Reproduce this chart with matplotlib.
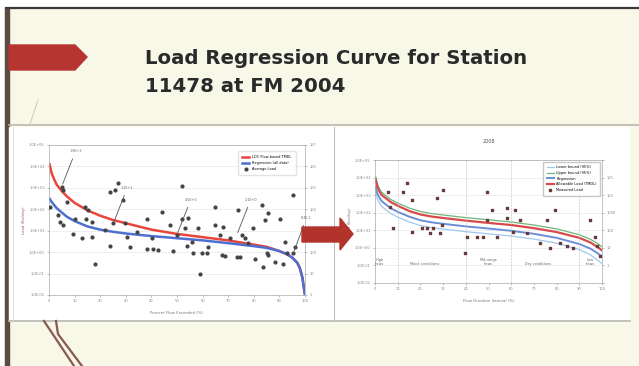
import numpy as np
import matplotlib
matplotlib.use("Agg")
import matplotlib.pyplot as plt
from matplotlib.patches import Polygon, Rectangle
from matplotlib.ticker import FixedLocator, NullLocator

# ---- slide text ----
title_lines = ["Load Regression Curve for Station", "11478 at FM 2004"]

# ---- left chart: flow-based load duration curve (log10 of load) ----
left_pct = [0.2, 1, 2, 3, 5, 7, 10, 15, 20, 25, 30, 40, 50, 60, 70, 80, 85, 90,
            93, 95, 97, 98, 99, 99.6, 100]
left_red = [4.1, 3.7, 3.4, 3.15, 2.85, 2.6, 2.3, 1.95, 1.7, 1.5, 1.35, 1.05, 0.85,
            0.7, 0.55, 0.35, 0.25, 0.05, -0.1, -0.25, -0.5, -0.75, -1.2, -1.7, -2.0]
left_blue = [2.5, 2.35, 2.2, 2.05, 1.85, 1.65, 1.45, 1.2, 1.05, 0.95, 0.87, 0.75,
             0.65, 0.55, 0.42, 0.28, 0.2, 0.05, -0.1, -0.25, -0.5, -0.75, -1.2, -1.7, -2.0]

left_obs_pct = [4.9, 5.6, 6.9, 0.4, 3.6, 4.3, 5.6, 9.5, 10.2, 12.8, 14.1, 15.4, 14.5,
                16.7, 16.7, 18.0, 21.9, 23.8, 25.8, 27.1, 29.0, 25.1, 23.8, 29.7, 30.3,
                31.6, 34.3, 38.2, 38.2, 40.1, 40.8, 42.7, 44.0, 47.3, 48.6, 51.8, 51.8,
                49.9, 53.1, 54.4, 53.8, 55.7, 56.4, 58.3, 59.0, 59.6, 61.6, 62.2, 64.8,
                64.8, 66.8, 68.1, 67.4, 68.8, 70.7, 73.9, 73.3, 74.6, 75.3, 76.6, 77.9,
                79.8, 80.5, 83.1, 83.7, 84.4, 85.0, 85.7, 85.7, 88.3, 90.2, 91.5, 92.2,
                92.8, 95.4, 95.4, 96.1]
left_obs_log = [3.05, 2.90, 2.35, 2.12, 1.73, 1.42, 1.26, 0.87, 1.54, 0.64, 2.12, 1.96,
                1.54, 1.42, 0.72, -0.56, 1.03, 2.82, 2.90, 3.21, 2.43, 1.34, 0.30, 1.37,
                0.72, 0.22, 0.95, 1.57, 0.14, 0.64, 0.14, 0.09, 1.88, 1.26, 0.06, 3.10,
                1.57, 0.79, 1.11, 1.60, 0.28, 0.48, -0.06, 1.11, -1.03, -0.06, -0.06,
                0.25, 2.12, 1.26, 0.79, 1.18, -0.14, -0.16, 0.64, 1.96, -0.22, -0.22,
                0.79, 0.64, 0.41, 1.11, -0.30, 2.20, -0.69, 1.50, -0.06, -0.14, 1.81,
                -0.45, 1.57, -0.53, 0.48, -0.06, 2.66, -0.06, 0.25]
left_notes = ["1.0E+3", "1.2E+1", "4.5E+0", "2.1E+0", "8.3E-1"]
left_note_pct = [4.9, 25.1, 49.9, 73.3, 95.4]
left_note_log = [3.05, 1.34, 0.79, 0.79, -0.06]

# ---- right chart: 2008 load duration curve ----
right_pct = [0.3, 1, 2, 3, 5, 7, 10, 15, 20, 25, 30, 40, 50, 60, 70, 80, 90, 95, 98, 100]
right_red = [3.9, 3.5, 3.2, 3.0, 2.8, 2.6, 2.4, 2.1, 1.9, 1.78, 1.7, 1.55, 1.42, 1.3,
             1.12, 0.9, 0.57, 0.3, 0.05, -0.15]
right_blue = [3.5, 3.1, 2.85, 2.65, 2.45, 2.25, 2.05, 1.78, 1.57, 1.45, 1.37, 1.22,
              1.1, 0.97, 0.8, 0.57, 0.22, -0.05, -0.3, -0.5]
right_upper = [4.05, 3.65, 3.35, 3.15, 2.95, 2.75, 2.55, 2.27, 2.07, 1.95, 1.87, 1.72,
               1.6, 1.47, 1.3, 1.08, 0.75, 0.48, 0.25, 0.05]
right_lower = [3.2, 2.8, 2.55, 2.35, 2.15, 1.95, 1.75, 1.48, 1.27, 1.15, 1.07, 0.92,
               0.8, 0.67, 0.5, 0.27, -0.1, -0.4, -0.7, -0.9]
right_obs_pct = [5.9, 12.5, 16.2, 14.0, 6.6, 8.1, 16.2, 20.6, 22.8, 25.7, 29.4, 30.1,
                 27.2, 49.2, 49.2, 51.4, 58.0, 58.0, 61.7, 63.9, 66.8, 75.6, 81.5, 84.4,
                 87.4, 96.9, 94.7, 40.4, 44.8, 47.7, 53.6, 24.2, 28.6, 39.6, 60.9, 72.7,
                 79.3, 77.1, 97.7, 99.1]
right_obs_log = [3.20, 3.20, 2.73, 3.67, 2.35, 1.12, 0.93, 1.12, 1.12, 1.12, 1.31, 3.30,
                 2.82, 3.20, 1.59, 2.16, 1.69, 2.25, 2.16, 1.59, 0.83, 1.59, 0.27, 0.08,
                 -0.02, 0.64, 1.59, 0.64, 0.64, 0.64, 0.64, 0.83, 0.83, -0.30, 0.93, 0.27,
                 2.16, -0.02, 0.08, -0.49]
zone_bounds = [10, 40, 60, 90]
zone_names = ["High\nflows", "Moist conditions", "Mid-range\nflows", "Dry conditions", "Low\nflows"]
zone_pos = [2, 22, 50, 72, 95]

x_ticks = list(range(0, 101, 10))
y_exps = list(range(-2, 6))

W, H = 639, 366
fig = plt.figure(figsize=(W / 100, H / 100), dpi=100)

# background / slide decoration (pixel space)
bg = fig.add_axes([0, 0, 1, 1], zorder=0)
bg.set_xlim(0, W)
bg.set_ylim(H, 0)
bg.axis("off")
bg.add_patch(Rectangle((0, 0), W, H, color="white"))
bg.add_patch(Rectangle((6, 8), W, H, color="#f8f8e8"))
bg.plot([6, W], [8, 8], color="#3a3a3a", lw=1.6)
bg.add_patch(Rectangle((5, 8), 4, H, color="#5b4b42"))
bg.add_patch(Polygon([[9, 45], [75, 45], [87, 57], [75, 70], [9, 70]], color="#b73530"))
for i, line in enumerate(title_lines):
    bg.text(145, 59 + i * 27, line, fontsize=14.2, fontweight="bold",
            family=["DejaVu Sans"], color="#2a2a2a", va="center", ha="left")
bg.add_patch(Rectangle((9, 127), 620, 194, color="white"))
bg.plot([9, W], [125, 125], color="#b8b8b0", lw=1.2)
bg.plot([9, 630], [321, 321], color="#b8b8b0", lw=1.2)
bg.plot([334, 334], [127, 321], color="#c0c0c0", lw=0.8)
bg.plot([13, 13], [127, 321], color="#d8d8d8", lw=0.6)
bg.plot([44, 74], [321, 366], color="#8a5a50", lw=1.6)
bg.plot([56, 58, 82], [321, 334, 366], color="#8a5a50", lw=1.6)
bg.plot([38, 30], [100, 124], color="#d0cfc0", lw=0.8)


def fmt_e(e):
    return "1.0E%+03d" % e


def style_axis(ax):
    ax.set_yscale("log")
    ax.set_ylim(10.0 ** y_exps[0], 10.0 ** y_exps[-1])
    ax.set_xlim(0, 100)
    ax.yaxis.set_major_locator(FixedLocator([10.0 ** e for e in y_exps]))
    ax.yaxis.set_minor_locator(NullLocator())
    ax.set_yticklabels([fmt_e(e) for e in y_exps])
    ax.set_xticks(x_ticks)
    ax.tick_params(labelsize=2.6, colors="#888888", length=1.5, width=0.4, pad=1.5)
    for s in ax.spines.values():
        s.set_color("#aaaaaa")
        s.set_linewidth(0.5)
    ax.grid(axis="y", color="#e4e4e4", lw=0.4)


# left chart
axl = fig.add_axes([49 / W, 1 - 295 / H, 256 / W, 150 / H], zorder=2)
style_axis(axl)
axl.plot(left_pct, 10.0 ** np.array(left_red), color="#e8453c", lw=1.8)
axl.plot(left_pct, 10.0 ** np.array(left_blue), color="#4d6fd0", lw=1.8)
axl.scatter(left_obs_pct, 10.0 ** np.array(left_obs_log), s=4, color="#444444", zorder=3)
for t, p, v in zip(left_notes, left_note_pct, left_note_log):
    axl.annotate(t, (p, 10.0 ** v), xytext=(p + 3, 10.0 ** (v + 1.6)), fontsize=2.4,
                 color="#666666", arrowprops=dict(arrowstyle="-", color="#555555", lw=0.6))
axl.set_xlabel("Percent Flow Exceeded (%)", fontsize=2.8, color="#777777", labelpad=6)
axl.set_ylabel("Load (lbs/day)", fontsize=2.8, color="#aa5555", labelpad=2)
axl.legend(["LDC Flow-based TMDL", "Regression (all data)", "Average Load"],
           loc="upper right", fontsize=2.5, frameon=True, edgecolor="#dddddd",
           borderpad=1.2, bbox_to_anchor=(0.97, 0.97))
axl2 = axl.twinx()
axl2.set_ylim(0, 7)
axl2.set_yticks(range(0, 8))
axl2.set_yticklabels(["1", "10", "100", "1000", "1E4", "1E5", "1E6", "1E7"])
axl2.tick_params(labelsize=2.6, colors="#888888", length=1.5, width=0.4, pad=2)
for s in axl2.spines.values():
    s.set_visible(False)

# right chart
axr = fig.add_axes([375 / W, 1 - 283 / H, 227 / W, 123 / H], zorder=2)
style_axis(axr)
axr.plot(right_pct, 10.0 ** np.array(right_lower), color="#9fc7ef", lw=0.9)
axr.plot(right_pct, 10.0 ** np.array(right_upper), color="#6fb57a", lw=0.9)
axr.plot(right_pct, 10.0 ** np.array(right_blue), color="#6a8fd8", lw=1.4)
axr.plot(right_pct, 10.0 ** np.array(right_red), color="#d84a4a", lw=1.6)
axr.scatter(right_obs_pct, 10.0 ** np.array(right_obs_log), s=3, color="#6a3a3a", zorder=3,
            marker="s")
for b in zone_bounds:
    axr.axvline(b, color="#bbbbbb", lw=0.4, ls="--")
for name, p in zip(zone_names, zone_pos):
    axr.text(p, 10.0 ** -1.0, name, fontsize=2.5, ha="center", color="#666666")
axr.set_title("2008", fontsize=3.5, color="#555555", pad=12)
axr.set_xlabel("Flow Duration Interval (%)", fontsize=2.8, color="#777777", labelpad=6)
axr.set_ylabel("Load (lbs/day)", fontsize=2.8, color="#777777", labelpad=2)
axr.legend(["Lower bound (95%)", "Upper bound (95%)", "Regression", "Allowable Load (TMDL)",
            "Measured Load"], loc="upper right", fontsize=2.5, frameon=True,
           edgecolor="#bbbbbb", borderpad=1.0)
axr2 = axr.twinx()
axr2.set_ylim(0, 7)
axr2.set_yticks(range(0, 8))
axr2.set_yticklabels(["", "1", "10", "100", "1000", "1E4", "1E5", ""])
axr2.tick_params(labelsize=2.6, colors="#888888", length=1.5, width=0.4, pad=2)
for s in axr2.spines.values():
    s.set_visible(False)

# overlay arrow between the two charts
top = fig.add_axes([0, 0, 1, 1], zorder=10)
top.set_xlim(0, W)
top.set_ylim(H, 0)
top.axis("off")
top.add_patch(Polygon([[302, 227], [340, 227], [340, 218], [353, 234], [340, 250],
                       [340, 242], [302, 242]], color="#b2322c"))

fig.savefig("out.png", dpi=100)
